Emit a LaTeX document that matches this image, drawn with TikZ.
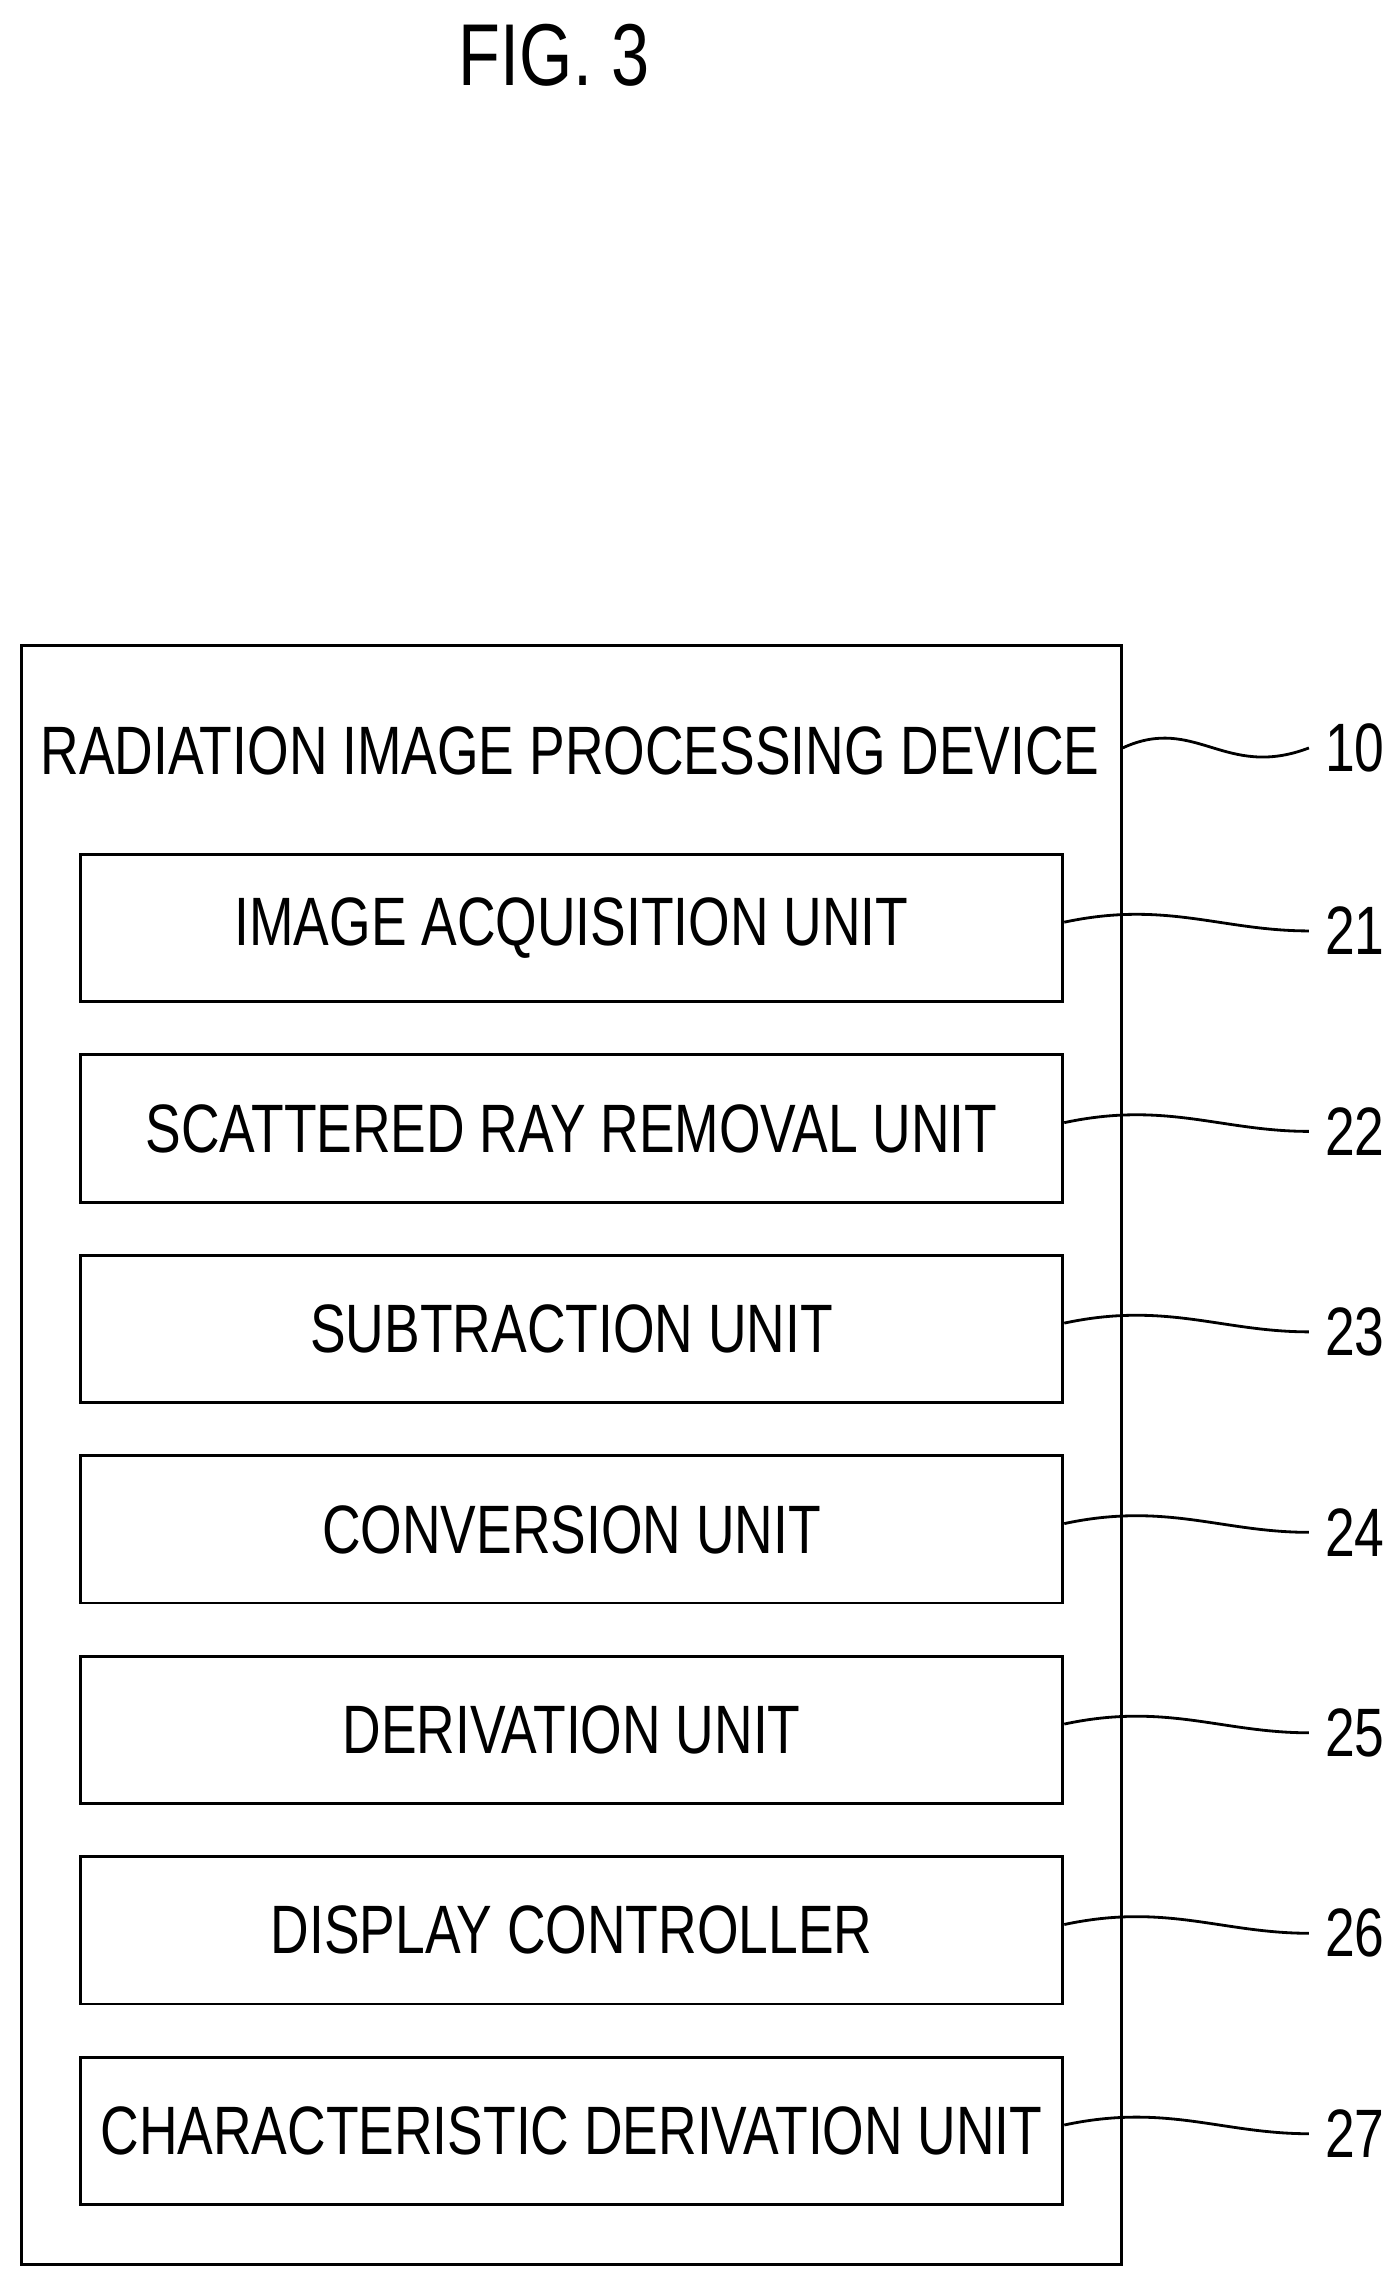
\documentclass[tikz,border=0pt]{standalone}
\usepackage{fontspec}
\setmainfont{Liberation Sans}[FakeStretch=0.78]
\usepackage{tikz}

\begin{document}
\begin{tikzpicture}[x=0.01458cm, y=-0.01458cm,
    unit/.style={thick, draw, rectangle, minimum width=674*0.01458cm, minimum height=101*0.01458cm, font=\fontsize{19.5}{22}\selectfont},
    refnum/.style={anchor=west, inner sep=1pt, font=\fontsize{19.5}{22}\selectfont},
    leader/.style={thick}]
    \useasboundingbox (0, 0) rectangle (960, 1570);

    \node[font=\fontsize{25}{28}\selectfont] at (380, 38) (fig) {FIG. 3};

    \node[thick, draw, rectangle, minimum width=754*0.01458cm, minimum height=1110*0.01458cm] at (392, 998) (device) {};
    \node[font=\fontsize{19.5}{22}\selectfont] at (391, 515) (title) {RADIATION IMAGE PROCESSING DEVICE};
    \node[refnum] at (906, 513) (n10) {10};
    \draw[leader] (device.east |- 0, 513) .. controls (820, 490) and (840, 535) .. ([xshift=-0.12cm]n10.west);

    \foreach \name [count=\i] in {IMAGE ACQUISITION UNIT, SCATTERED RAY REMOVAL UNIT, SUBTRACTION UNIT,
        CONVERSION UNIT, DERIVATION UNIT, DISPLAY CONTROLLER, CHARACTERISTIC DERIVATION UNIT} {
        \pgfmathsetmacro{\yy}{636.5 + (\i - 1) * 137.5}
        \pgfmathtruncatemacro{\num}{20 + \i}
        \node[unit] at (392, \yy) (u\num) {\name};
        \node[refnum] at (906, \yy + 2) (n\num) {\num};
        \draw[leader] (u\num.east) ++(0, -4) .. controls +(70, -15) and +(-60, 0) .. ([xshift=-0.12cm]n\num.west);
    }
\end{tikzpicture}
\end{document}
